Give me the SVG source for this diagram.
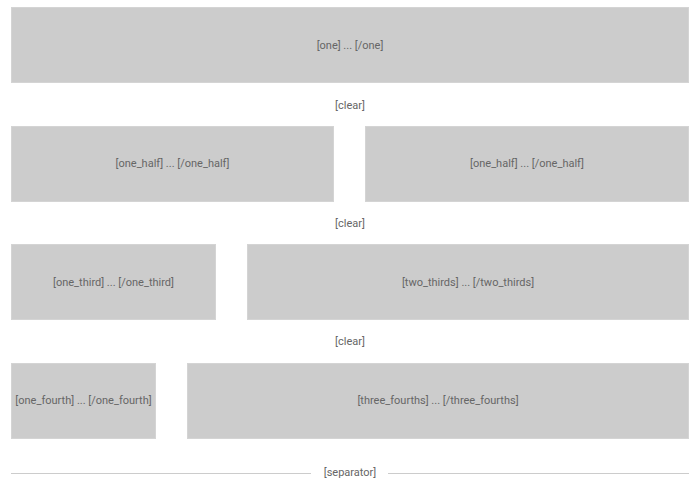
<svg xmlns="http://www.w3.org/2000/svg" width="700" height="492" viewBox="0 0 700 492">
<style>
.box{fill:#cccccc;stroke:#d4d4d4;stroke-width:1}
.t{font-family:Roboto,"Liberation Sans",sans-serif;font-size:11px;fill:#666666;text-anchor:middle}
.sep{stroke:#cccccc;stroke-width:1}
</style>
<rect width="700" height="492" fill="#ffffff"/>
<g id="one"><rect class="box" x="11.5" y="7.5" width="677" height="75"/><text class="t" x="350" y="49">[one] ... [/one]</text></g>
<g id="clear1"><text class="t" x="350" y="109">[clear]</text></g>
<g id="one_half_a"><rect class="box" x="11.5" y="126.5" width="322" height="75"/><text class="t" x="172.5" y="167">[one_half] ... [/one_half]</text></g>
<g id="one_half_b"><rect class="box" x="365.5" y="126.5" width="323" height="75"/><text class="t" x="527" y="167">[one_half] ... [/one_half]</text></g>
<g id="clear2"><text class="t" x="350" y="227">[clear]</text></g>
<g id="one_third"><rect class="box" x="11.5" y="244.5" width="204" height="75"/><text class="t" x="113.5" y="286">[one_third] ... [/one_third]</text></g>
<g id="two_thirds"><rect class="box" x="247.5" y="244.5" width="441" height="75"/><text class="t" x="468" y="286">[two_thirds] ... [/two_thirds]</text></g>
<g id="clear3"><text class="t" x="350" y="345">[clear]</text></g>
<g id="one_fourth"><rect class="box" x="11.5" y="363.5" width="144" height="75"/><text class="t" x="83.5" y="404">[one_fourth] ... [/one_fourth]</text></g>
<g id="three_fourths"><rect class="box" x="187.5" y="363.5" width="501" height="75"/><text class="t" x="438" y="404">[three_fourths] ... [/three_fourths]</text></g>
<g id="connectors"><line class="sep" x1="11" y1="473.5" x2="311" y2="473.5"/><line class="sep" x1="388" y1="473.5" x2="689" y2="473.5"/></g>
<g id="separator"><text class="t" x="350" y="476">[separator]</text></g>
</svg>
